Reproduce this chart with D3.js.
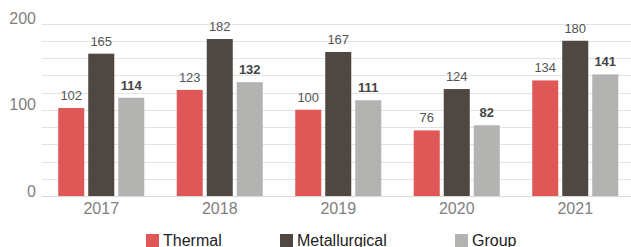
<!DOCTYPE html>
<html>
<head>
<meta charset="utf-8">
<script src="https://cdn.jsdelivr.net/npm/d3@7"></script>
<style>
  body { margin: 0; background: #fff; }
  svg { display: block; font-family: "Liberation Sans", Arial, sans-serif; }
</style>
</head>
<body>
<svg id="chart" width="631" height="247"></svg>
<script>
// data
var years = ["2017", "2018", "2019", "2020", "2021"];
var series = ["Thermal", "Metallurgical", "Group"];
var thermal = [102, 123, 100, 76, 134];
var metallurgical = [165, 182, 167, 124, 180];
var group = [114, 132, 111, 82, 141];
var yTicks = [0, 100, 200];
var colors = ["#e05758", "#4f4741", "#b3b3b2"];

var values = [thermal, metallurgical, group];

var svg = d3.select("#chart");

var x0 = d3.scaleBand()
    .domain(years)
    .range([42, 634.5])
    .paddingInner(0.274)
    .paddingOuter(0.137);

var x1 = d3.scaleBand()
    .domain(series)
    .range([0, x0.bandwidth()])
    .paddingInner(0.133)
    .paddingOuter(0);

var y = d3.scaleLinear()
    .domain([0, 200])
    .range([196, 23.5]);

// gridlines every 20
svg.append("g")
    .selectAll("line")
    .data(d3.range(20, 201, 20))
    .join("line")
    .attr("x1", 42)
    .attr("x2", 631)
    .attr("y1", d => Math.round(y(d)) + 0.5)
    .attr("y2", d => Math.round(y(d)) + 0.5)
    .attr("stroke", "#e3e3e3")
    .attr("stroke-width", 1);

// baseline
svg.append("line")
    .attr("x1", 42)
    .attr("x2", 631)
    .attr("y1", y(0) + 0.5)
    .attr("y2", y(0) + 0.5)
    .attr("stroke", "#d8d8d8");

// y labels
svg.append("g")
    .selectAll("text")
    .data(yTicks)
    .join("text")
    .attr("x", 36)
    .attr("y", d => y(d) + 0.5)
    .attr("text-anchor", "end")
    .attr("font-size", 16)
    .attr("fill", "#808080")
    .text(d => d);

// bars
var groups = svg.append("g")
    .selectAll("g")
    .data(years)
    .join("g")
    .attr("transform", d => "translate(" + x0(d) + ",0)");

groups.each(function (yr, i) {
    var g = d3.select(this);
    series.forEach(function (s, j) {
        var v = values[j][i];
        g.append("rect")
            .attr("x", x1(s))
            .attr("y", y(v))
            .attr("width", x1.bandwidth())
            .attr("height", y(0) - y(v))
            .attr("fill", colors[j]);
        g.append("text")
            .attr("x", x1(s) + x1.bandwidth() / 2)
            .attr("y", y(v) - 8)
            .attr("text-anchor", "middle")
            .attr("font-size", 13)
            .attr("font-weight", j == 2 ? "bold" : "normal")
            .attr("fill", j == 2 ? "#444" : "#555")
            .text(v);
    });
});

// x labels
svg.append("g")
    .selectAll("text")
    .data(years)
    .join("text")
    .attr("x", d => x0(d) + x0.bandwidth() / 2)
    .attr("y", 214)
    .attr("text-anchor", "middle")
    .attr("font-size", 16)
    .attr("fill", "#808080")
    .text(d => d);

// legend
var legendX = [146, 280, 455];
var legend = svg.append("g")
    .selectAll("g")
    .data(series)
    .join("g")
    .attr("transform", (d, i) => "translate(" + legendX[i] + ",234)");

legend.append("rect")
    .attr("width", 13)
    .attr("height", 13)
    .attr("fill", (d, i) => colors[i]);

legend.append("text")
    .attr("x", 17)
    .attr("y", 12)
    .attr("font-size", 16)
    .attr("fill", "#222")
    .text(d => d);
</script>
</body>
</html>
